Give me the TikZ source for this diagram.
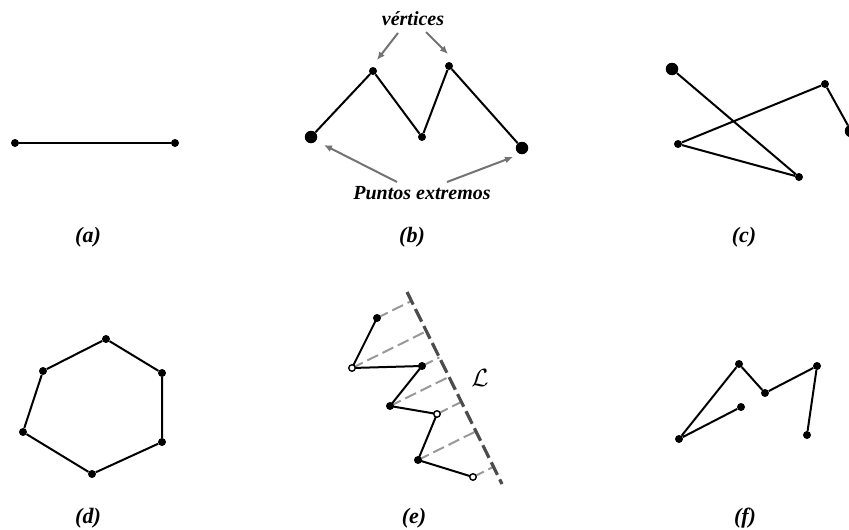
\documentclass[tikz,border=0pt]{standalone}
\usepackage{fontspec}
\setmainfont{Liberation Serif}
\usetikzlibrary{arrows.meta,calc}
\begin{document}
\begin{tikzpicture}[x=1pt,y=-1pt,
  dot/.style={circle,fill=black,inner sep=0pt,minimum size=8pt},
  bigdot/.style={circle,fill=black,inner sep=0pt,minimum size=12.5pt},
  odot/.style={circle,draw=black,fill=white,line width=1.4pt,inner sep=0pt,minimum size=6.5pt},
  seg/.style={line width=2pt,black},
  garrow/.style={line width=2pt,color=black!55,-{Latex[length=8pt,width=7pt]}},
  proj/.style={line width=2pt,color=black!40,dash pattern=on 12pt off 5pt},
  lline/.style={line width=3.2pt,color=black!70,dash pattern=on 14pt off 5pt},
  lab/.style={font=\fontsize{22}{26}\selectfont\bfseries\itshape},
  captext/.style={font=\fontsize{20}{24}\selectfont\bfseries\itshape}]
\useasboundingbox (0,0) rectangle (849,530);
\clip (0,0) rectangle (849,530);
% (a)
\node[dot] (a1) at (15,143) {};
\node[dot] (a2) at (175,143) {};
\draw[seg] (a1) -- (a2);
% (b)
\node[bigdot] (b1) at (311,137) {};
\node[dot] (b2) at (373,71) {};
\node[dot] (b3) at (422,137) {};
\node[dot] (b4) at (449,66) {};
\node[bigdot] (b5) at (522,148) {};
\draw[seg] (b1) -- (b2) -- (b3) -- (b4) -- (b5);
\node[captext] (vt) at (413,19) {vértices};
\node[captext] (pe) at (422,193) {Puntos extremos};
\coordinate (v1s) at (398,33); \coordinate (v1e) at (377,60);
\coordinate (v2s) at (426,32); \coordinate (v2e) at (448,54);
\coordinate (p1s) at (397,182); \coordinate (p1e) at (324,145);
\coordinate (p2s) at (447,182); \coordinate (p2e) at (513,157);
\draw[garrow] (v1s) -- (v1e);
\draw[garrow] (v2s) -- (v2e);
\draw[garrow] (p1s) -- (p1e);
\draw[garrow] (p2s) -- (p2e);
% (c)
\node[bigdot] (c1) at (672,69) {};
\node[dot] (c2) at (799,177) {};
\node[dot] (c3) at (678,144) {};
\node[dot] (c4) at (825,84) {};
\node[bigdot] (c5) at (851,131) {};
\draw[seg] (c1) -- (c2) -- (c3) -- (c4) -- (c5);
% (d)
\node[dot] (d1) at (106,339) {};
\node[dot] (d2) at (162,373) {};
\node[dot] (d3) at (162,442) {};
\node[dot] (d4) at (92,474) {};
\node[dot] (d5) at (23,432) {};
\node[dot] (d6) at (43,371) {};
\draw[seg] (d1) -- (d2) -- (d3) -- (d4) -- (d5) -- (d6) -- (d1);
% (e)
\coordinate (L1) at (407,292);
\coordinate (L2) at (502,484);
\coordinate (e1) at (377,318);
\coordinate (e2) at (352,368);
\coordinate (e3) at (422,366);
\coordinate (e4) at (390,406);
\coordinate (e5) at (437,414);
\coordinate (e6) at (418,460);
\coordinate (e7) at (473,477);
\foreach \i in {1,...,7}{
  \draw[proj] (e\i) -- ($(L1)!(e\i)!(L2)$);
}
\draw[seg] (e1) -- (e2) -- (e3) -- (e4) -- (e5) -- (e6) -- (e7);
\node[dot] (n1) at (e1) {};
\node[odot] (n2) at (e2) {};
\node[dot] (n3) at (e3) {};
\node[dot] (n4) at (e4) {};
\node[odot] (n5) at (e5) {};
\node[dot] (n6) at (e6) {};
\node[odot] (n7) at (e7) {};
\draw[lline] (L1) -- (L2);
\node (Lab) at (480,378) {\fontsize{24}{28}\selectfont$\mathcal{L}$};
% (f)
\node[dot] (f1) at (741,407) {};
\node[dot] (f2) at (679,439) {};
\node[dot] (f3) at (739,364) {};
\node[dot] (f4) at (765,393) {};
\node[dot] (f5) at (817,366) {};
\node[dot] (f6) at (807,435) {};
\draw[seg] (f1) -- (f2) -- (f3) -- (f4) -- (f5) -- (f6);
% labels
\node[lab] (la) at (88,237) {(a)};
\node[lab] (lb) at (412,237) {(b)};
\node[lab] (lc) at (744,237) {(c)};
\node[lab] (ld) at (88,518) {(d)};
\node[lab] (le) at (414,518) {(e)};
\node[lab] (lf) at (745,518) {(f)};
\end{tikzpicture}
\end{document}
